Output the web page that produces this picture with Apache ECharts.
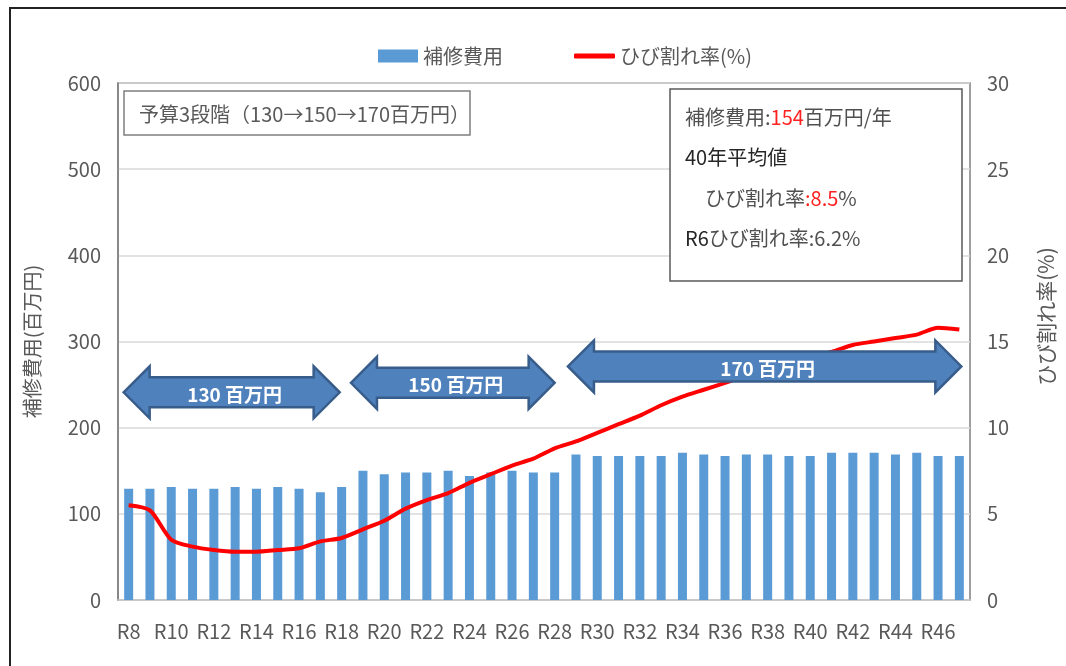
<!DOCTYPE html>
<html>
<head>
<meta charset="utf-8">
<script src="https://cdn.jsdelivr.net/npm/echarts@6/dist/echarts.min.js"></script>
<style>
  html, body { margin: 0; padding: 0; background: #fff; }
  #chart { width: 1066px; height: 666px; }
</style>
</head>
<body>
<div id="chart"></div>
<script>
const years = [
  'R8', 'R9', 'R10', 'R11', 'R12', 'R13', 'R14', 'R15', 'R16', 'R17',
  'R18', 'R19', 'R20', 'R21', 'R22', 'R23', 'R24', 'R25', 'R26', 'R27',
  'R28', 'R29', 'R30', 'R31', 'R32', 'R33', 'R34', 'R35', 'R36', 'R37',
  'R38', 'R39', 'R40', 'R41', 'R42', 'R43', 'R44', 'R45', 'R46', 'R47',
];

// 補修費用 (百万円)
const repairCost = [
  129, 129, 131, 129, 129, 131, 129, 131, 129, 125,
  131, 150, 146, 148, 148, 150, 144, 148, 150, 148,
  148, 169, 167, 167, 167, 167, 171, 169, 167, 169,
  169, 167, 167, 171, 171, 171, 169, 171, 167, 167,
];

// ひび割れ率 (%)
const crackRate = [
  5.5, 5.2, 3.5, 3.1, 2.9, 2.8, 2.8, 2.9, 3.0, 3.4,
  3.6, 4.1, 4.6, 5.3, 5.8, 6.2, 6.8, 7.3, 7.8, 8.2,
  8.8, 9.2, 9.7, 10.2, 10.7, 11.3, 11.8, 12.2, 12.6, 13.0,
  13.4, 13.8, 14.1, 14.4, 14.8, 15.0, 15.2, 15.4, 15.8, 15.7,
];

const leftTicks = [0, 600, 100];
const rightTicks = [0, 30, 5];

// budget stages drawn as double arrows
const stages = [
  { from: 'R8', to: 'R18', level: 241, label: '130 百万円', padL: 5, padR: -2 },
  { from: 'R19', to: 'R28', level: 252, label: '150 百万円', padL: 12, padR: 0 },
  { from: 'R29', to: 'R47', level: 271, label: '170 百万円', padL: 8, padR: 2 },
];

const font = '"Noto Sans CJK JP", sans-serif';
const gray = '#595959';

const chart = echarts.init(document.getElementById('chart'), null, { renderer: 'canvas' });

chart.setOption({
  animation: false,
  textStyle: { fontFamily: font },
  legend: [
    {
      left: 373, top: 41, itemWidth: 40, itemHeight: 13, icon: 'rect', itemGap: 6,
      data: ['補修費用'],
      textStyle: { fontSize: 20, color: gray, fontFamily: font },
    },
    {
      left: 569, top: 41, itemWidth: 41, itemHeight: 5, icon: 'roundRect', itemGap: 6,
      data: ['ひび割れ率(%)'],
      textStyle: { fontSize: 20, color: gray, fontFamily: font },
    },
  ],
  grid: {
    left: 118, right: 96, top: 83, bottom: 66,
    show: true, borderColor: '#808080', borderWidth: 1.5,
  },
  xAxis: {
    type: 'category',
    data: years,
    axisTick: { show: false },
    axisLine: { lineStyle: { color: '#c8c8c8', width: 1.5 } },
    axisLabel: { interval: 1, margin: 21, fontSize: 20, color: gray, fontFamily: font },
  },
  yAxis: [
    {
      type: 'value',
      min: leftTicks[0], max: leftTicks[1], interval: leftTicks[2],
      name: '補修費用(百万円)',
      nameLocation: 'middle', nameRotate: 90, nameGap: 76,
      nameTextStyle: { fontSize: 20, color: gray, fontFamily: font },
      axisLine: { show: true, lineStyle: { color: '#808080', width: 1.5 } },
      axisLabel: { margin: 17, fontSize: 20, color: gray, fontFamily: font },
      splitLine: { lineStyle: { color: '#d9d9d9', width: 1.5 } },
    },
    {
      type: 'value',
      min: rightTicks[0], max: rightTicks[1], interval: rightTicks[2],
      name: 'ひび割れ率(%)',
      nameLocation: 'middle', nameRotate: 90, nameGap: 66,
      nameTextStyle: { fontSize: 21, color: gray, fontFamily: font, padding: [0, 0, 0, 50] },
      axisLine: { show: false },
      axisLabel: { margin: 17, fontSize: 20, color: gray, fontFamily: font },
      splitLine: { show: false },
    },
  ],
  series: [
    {
      name: '補修費用',
      type: 'bar',
      data: repairCost,
      barWidth: 9,
      itemStyle: { color: '#5b9bd5' },
    },
    {
      name: 'ひび割れ率(%)',
      type: 'line',
      yAxisIndex: 1,
      data: crackRate,
      symbol: 'none',
      smooth: 0.25,
      itemStyle: { color: '#ff0000' },
      lineStyle: { color: '#ff0000', width: 4 },
      z: 3,
    },
  ],
});

function arrowPoints(x0, x1, cy) {
  const head = 26, half = 26, shaft = 15;
  return [
    [x0, cy], [x0 + head, cy - half], [x0 + head, cy - shaft],
    [x1 - head, cy - shaft], [x1 - head, cy - half], [x1, cy],
    [x1 - head, cy + half], [x1 - head, cy + shaft],
    [x0 + head, cy + shaft], [x0 + head, cy + half],
  ];
}

const graphics = [
  {
    type: 'rect', id: 'frame', silent: true, z: 0,
    shape: { x: 10, y: 8, width: 1100, height: 700 },
    style: { fill: null, stroke: '#222', lineWidth: 2 },
  },
  {
    type: 'rect', id: 'budgetBox', z: 10,
    shape: { x: 124, y: 91, width: 346, height: 44 },
    style: { fill: '#fff', stroke: '#7f7f7f', lineWidth: 1.5 },
  },
  {
    type: 'text', id: 'budgetText', z: 11, x: 139, y: 114,
    style: {
      text: '予算3段階（130→150→170百万円）',
      fontSize: 20, fill: gray, fontFamily: font, verticalAlign: 'middle',
    },
  },
  {
    type: 'rect', id: 'infoBox', z: 10,
    shape: { x: 670, y: 89, width: 292, height: 192 },
    style: { fill: '#fff', stroke: '#595959', lineWidth: 1.5 },
  },
  {
    type: 'text', id: 'infoText', z: 11, x: 685, y: 97,
    style: {
      text: '{g|補修費用:}{r|154}{g|百万円/年}\n{k|40年平均値}\n{g|　ひび割れ率}{r|:8.5}{g|%}\n{k|R6}{g|ひび割れ率:6.2%}',
      fontFamily: font,
      rich: {
        g: { fontSize: 20, fill: '#505050', lineHeight: 40.5, fontFamily: font },
        k: { fontSize: 20, fill: '#262626', lineHeight: 40.5, fontFamily: font },
        r: { fontSize: 20, fill: '#ff2020', lineHeight: 40.5, fontFamily: font },
      },
    },
  },
];

stages.forEach((s, i) => {
  const x0 = chart.convertToPixel({ xAxisIndex: 0 }, s.from) - s.padL;
  const x1 = chart.convertToPixel({ xAxisIndex: 0 }, s.to) + s.padR;
  const cy = chart.convertToPixel({ yAxisIndex: 0 }, s.level);
  graphics.push({
    type: 'polygon', id: 'arrow' + i, z: 20,
    shape: { points: arrowPoints(x0, x1, cy) },
    style: { fill: '#4f81bd', stroke: '#385d8a', lineWidth: 2.5 },
  });
  graphics.push({
    type: 'text', id: 'arrowText' + i, z: 21,
    x: (x0 + x1) / 2 + 3, y: cy + 2,
    style: {
      text: s.label, fontSize: 19, fontWeight: 'bold', fill: '#fff',
      fontFamily: font, align: 'center', verticalAlign: 'middle',
    },
  });
});

chart.setOption({ graphic: graphics });
</script>
</body>
</html>
